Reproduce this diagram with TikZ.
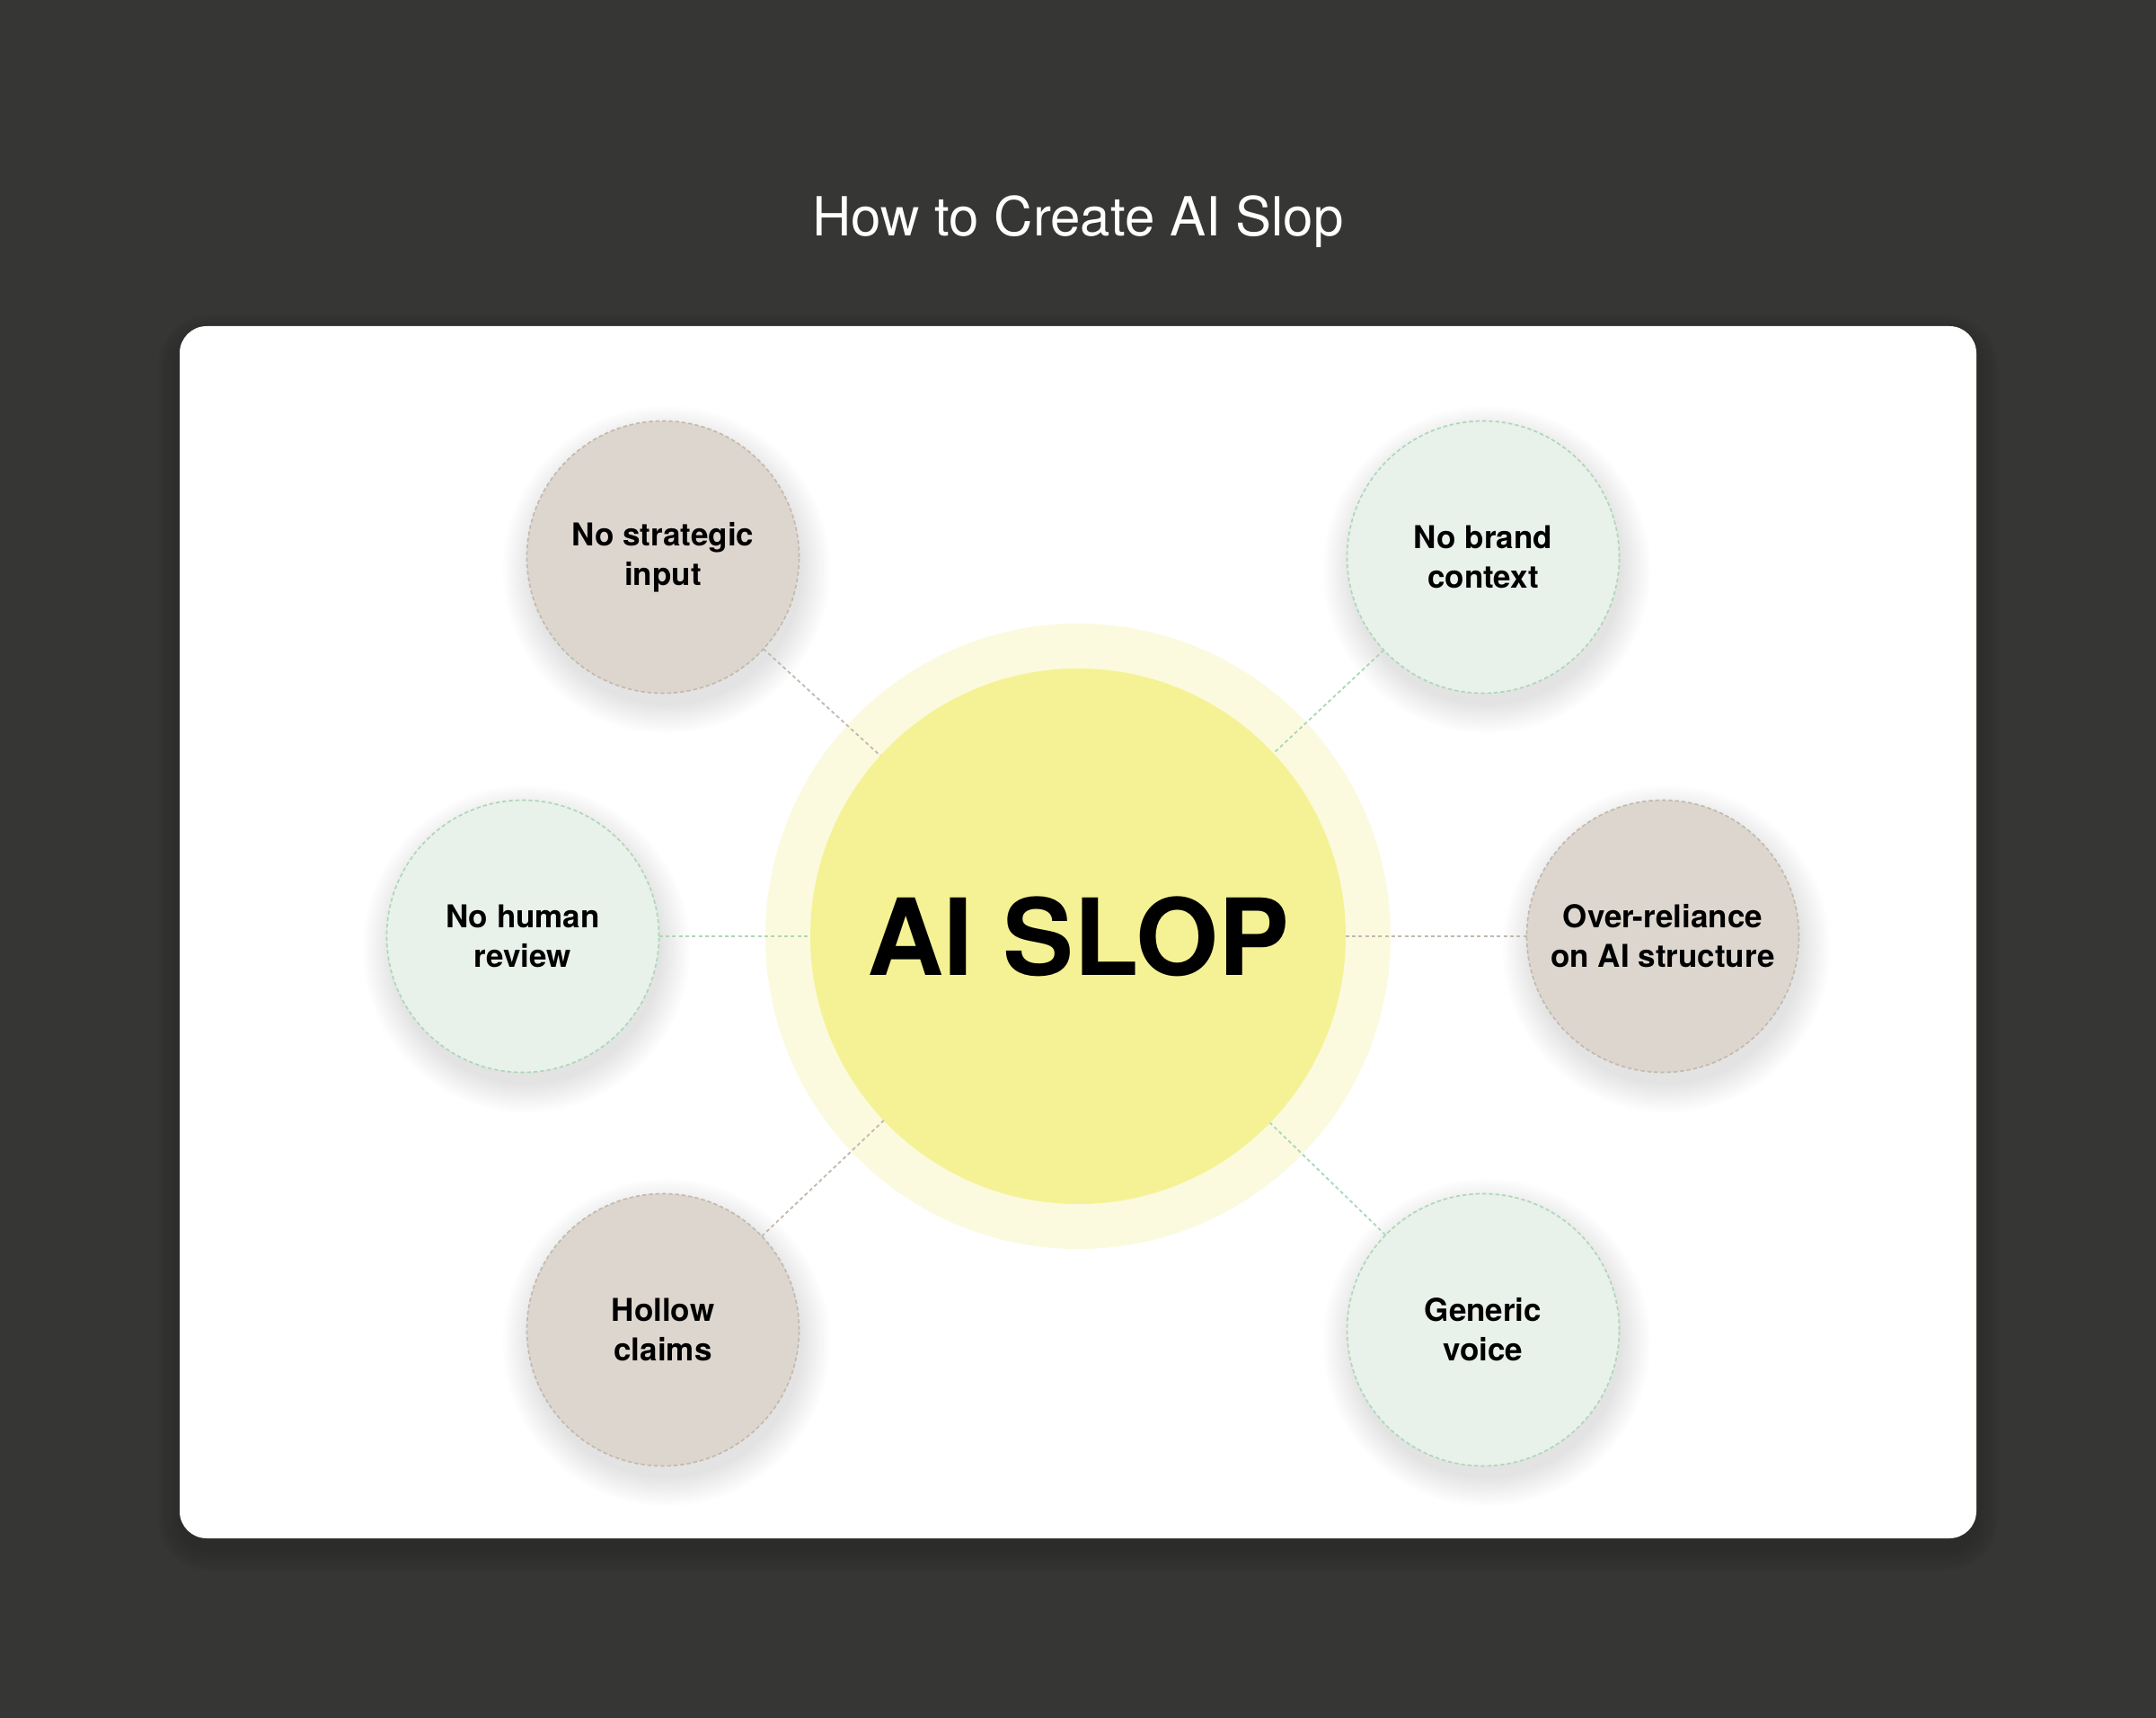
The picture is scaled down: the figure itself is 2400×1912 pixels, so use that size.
\documentclass[tikz,border=0pt]{standalone}
\usepackage{fontspec}
\setmainfont{TeX Gyre Heros}
\definecolor{bg}{HTML}{363634}
\definecolor{beige}{HTML}{DDD6CF}
\definecolor{beigeline}{HTML}{C2B9AF}
\definecolor{mint}{HTML}{E8F1EA}
\definecolor{mintline}{HTML}{ADD7B8}
\definecolor{corefill}{HTML}{F5F295}
\definecolor{halofill}{HTML}{FBFADF}
\definecolor{ink}{HTML}{000000}
\begin{document}
\begin{tikzpicture}[x=0.3pt,y=-0.3pt,
  bubble/.style={circle, minimum size=90.9pt, inner sep=0pt, outer sep=0pt,
    line width=0.5pt, dash pattern=on 1.3pt off 0.9pt,
    font=\fontsize{10.5}{13.2}\selectfont\bfseries, text=ink, align=center},
  warm/.style={bubble, fill=beige, draw=beigeline},
  cool/.style={bubble, fill=mint, draw=mintline},
  link/.style={line width=0.55pt, dash pattern=on 1.2pt off 1pt},
  warmlink/.style={link, draw=beigeline},
  coollink/.style={link, draw=mintline},
  halostyle/.style={circle, minimum size=208.8pt, inner sep=0pt, outer sep=0pt, fill=halofill},
  corestyle/.style={circle, minimum size=178.8pt, inner sep=0pt, outer sep=0pt, fill=corefill,
    font=\fontsize{35.5}{40}\selectfont\bfseries, text=ink},
  titlestyle/.style={font=\fontsize{18}{21}\selectfont, text=white, inner sep=0pt}
]
\useasboundingbox (0,0) rectangle (2400,1912);
\fill[bg] (0,0) rectangle (2400,1912);
% card shadow
\foreach \i in {1,...,8}{
  \fill[black, opacity=0.02, rounded corners=9pt+\i*1pt]
    (200-\i*3,363-\i*3+12) rectangle (2200+\i*3,1712+\i*3+12);
}
\fill[white, rounded corners=9pt] (200,363) rectangle (2200,1712);
% bubble shadows
\foreach \cx/\cy in {738/620, 1651/620, 582/1042, 1851/1042, 738/1480, 1651/1480}{
  \foreach \i in {0,...,13}{
    \fill[black, opacity=0.008] (\cx+4,\cy+14) circle[radius=151+\i*2.4];
  }
}
\node[titlestyle, anchor=base] (title) at (1200,263) {How to Create AI Slop};
\node[halostyle] (halo) at (1200,1042) {};
\node[corestyle] (core) at (1200,1042) {\raisebox{-1.5pt}{AI SLOP}};
\node[warm] (tl) at (738,620) {No strategic\\input};
\node[cool] (tr) at (1651,620) {No brand\\context};
\node[cool] (ml) at (582,1042) {No human\\review};
\node[warm] (mr) at (1851,1042) {Over-reliance\\on AI structure};
\node[warm] (bl) at (738,1480) {Hollow\\claims};
\node[cool] (br) at (1651,1480) {Generic\\voice};
\draw[warmlink] (tl) -- (core);
\draw[coollink] (tr) -- (core);
\draw[coollink] (ml) -- (core);
\draw[warmlink] (mr) -- (core);
\draw[warmlink] (bl) -- (core);
\draw[coollink] (br) -- (core);
\end{tikzpicture}
\end{document}
